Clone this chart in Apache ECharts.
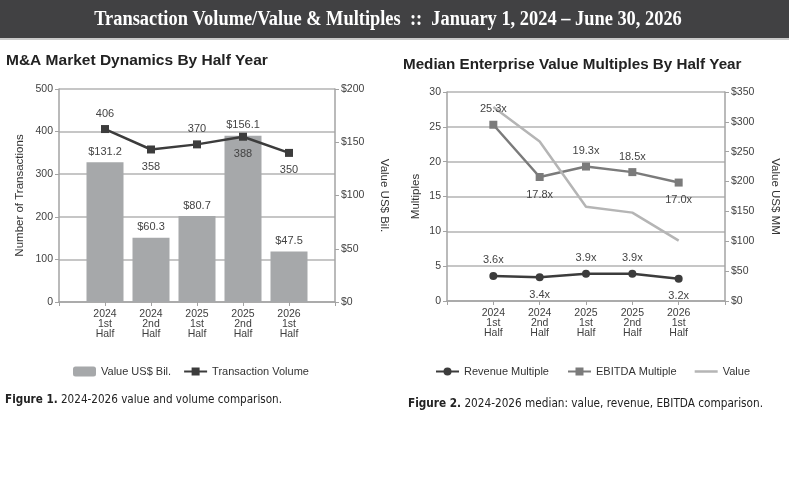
<!DOCTYPE html>
<html>
<head>
<meta charset="utf-8">
<script src="https://cdn.jsdelivr.net/npm/echarts@6/dist/echarts.min.js"></script>
<style>
  html, body { margin: 0; padding: 0; background: #fff; }
  #main { width: 789px; height: 478px; }
</style>
</head>
<body>
<div id="main"></div>
<script>
// half-year periods
var halves = ['2024\n1st\nHalf', '2024\n2nd\nHalf', '2025\n1st\nHalf', '2025\n2nd\nHalf', '2026\n1st\nHalf'];

// figure 1
var dealValue = [131.2, 60.3, 80.7, 156.1, 47.5];   // US$ Bil.
var dealCount = [406, 358, 370, 388, 350];

// figure 2
var revenueMultiple = [3.6, 3.4, 3.9, 3.9, 3.2];
var ebitdaMultiple = [25.3, 17.8, 19.3, 18.5, 17.0];
var medianValue = [325, 267, 158, 148, 101];        // US$ MM

var sans = 'Liberation Sans, Arial, sans-serif';
var capFont = 'DejaVu Sans Condensed, DejaVu Sans, sans-serif';
var axisGray = '#a3a3a3';

// one empty slot on each side, like the original charts
var cats = [''].concat(halves, ['']);
function pad(arr) { return [null].concat(arr, [null]); }

// label above / below per point
var countSide = ['top', 'bottom', 'top', 'bottom', 'bottom'];
var revSide = ['top', 'bottom', 'top', 'top', 'bottom'];
var ebitdaSide = ['top', 'bottom', 'top', 'top', 'bottom'];

function sided(arr, sides) {
  return pad(arr.map(function (v, i) {
    return { value: v, label: { position: sides[i], distance: sides[i] == 'top' ? 6 : 8 } };
  }));
}

function catAxis(idx) {
  return {
    type: 'category', gridIndex: idx, data: cats, boundaryGap: false,
    axisLine: { lineStyle: { color: axisGray, width: 1.5 } },
    axisTick: { show: true, length: 4, lineStyle: { color: axisGray } },
    axisLabel: { interval: 0, color: '#404040', fontFamily: sans, fontSize: 10.5, lineHeight: 10, margin: 7 }
  };
}

function valAxis(idx, max, step, name, pos, gap, fmt, split) {
  return {
    type: 'value', gridIndex: idx, position: pos, min: 0, max: max, interval: step,
    name: name, nameLocation: 'middle', nameGap: gap, nameRotate: pos == 'left' ? 90 : -90,
    nameTextStyle: { color: '#333', fontFamily: sans, fontSize: 11.5 },
    axisLine: { show: true, lineStyle: { color: axisGray, width: 1.5 } },
    axisTick: { show: true, length: 4, lineStyle: { color: axisGray } },
    axisLabel: { color: '#404040', fontFamily: sans, fontSize: 10.5, margin: 6, formatter: fmt },
    splitLine: { show: split, lineStyle: { color: '#b3b3b3', width: 1.5 } }
  };
}

var labelStyle = { show: true, color: '#444', fontFamily: sans, fontSize: 11 };
var lineIcon = 'path://M0,4 L23,4 L23,6.5 L0,6.5 Z';

var chart = echarts.init(document.getElementById('main'));

var option = {
  animation: false,
  backgroundColor: '#fff',
  graphic: [
    { type: 'rect', shape: { x: 0, y: 0, width: 789, height: 38 }, style: { fill: '#414143' } },
    { type: 'rect', shape: { x: 0, y: 38, width: 789, height: 2 }, style: { fill: '#c9c9c9' } },
    {
      type: 'text', x: 388, y: 20, scaleX: 0.92,
      style: {
        text: 'Transaction Volume/Value & Multiples  ::  January 1, 2024 \u2013 June 30, 2026',
        fill: '#fff', font: 'bold 20px "Liberation Serif", "Times New Roman", serif',
        align: 'center', verticalAlign: 'middle'
      }
    },
    {
      type: 'text', x: 6, y: 61,
      style: { text: 'M&A Market Dynamics By Half Year', fill: '#222', font: 'bold 15.5px ' + sans, verticalAlign: 'middle' }
    },
    {
      type: 'text', x: 403, y: 65,
      style: { text: 'Median Enterprise Value Multiples By Half Year', fill: '#222', font: 'bold 15.2px ' + sans, verticalAlign: 'middle' }
    },
    {
      type: 'text', x: 5, y: 400,
      style: {
        text: '{b|Figure 1.} 2024-2026 value and volume comparison.',
        verticalAlign: 'middle',
        rich: { b: { font: 'bold 11.6px ' + capFont, fill: '#222' } },
        font: '11.6px ' + capFont, fill: '#222'
      }
    },
    {
      type: 'text', x: 408, y: 404,
      style: {
        text: '{b|Figure 2.} 2024-2026 median: value, revenue, EBITDA comparison.',
        verticalAlign: 'middle',
        rich: { b: { font: 'bold 11.7px ' + capFont, fill: '#222' } },
        font: '11.7px ' + capFont, fill: '#222'
      }
    }
  ],
  grid: [
    { left: 59, top: 89, width: 276, height: 213 },
    { left: 447, top: 92, width: 278, height: 209 }
  ],
  legend: [
    {
      left: 73, top: 366, padding: 0, itemWidth: 23, itemHeight: 10, itemGap: 12,
      textStyle: { color: '#333', fontFamily: sans, fontSize: 11 },
      data: ['Value US$ Bil.', 'Transaction Volume']
    },
    {
      left: 435, top: 366, padding: 0, itemWidth: 23, itemHeight: 10, itemGap: 18,
      textStyle: { color: '#333', fontFamily: sans, fontSize: 11 },
      data: ['Revenue Multiple', 'EBITDA Multiple', { name: 'Value', icon: lineIcon }]
    }
  ],
  xAxis: [catAxis(0), catAxis(1)],
  yAxis: [
    valAxis(0, 500, 100, 'Number of Transactions', 'left', 33, null, true),
    valAxis(0, 200, 50, 'Value US$ Bil.', 'right', 43, function (v) { return '$' + v; }, false),
    valAxis(1, 30, 5, 'Multiples', 'left', 25, null, true),
    valAxis(1, 350, 50, 'Value US$ MM', 'right', 44, function (v) { return '$' + v; }, false)
  ],
  series: [
    {
      name: 'Value US$ Bil.', type: 'bar', xAxisIndex: 0, yAxisIndex: 1,
      barWidth: 37, data: pad(dealValue),
      itemStyle: { color: '#a6a8aa' },
      label: Object.assign({}, labelStyle, { position: 'top', formatter: function (p) { return '$' + p.value.toFixed(1); } })
    },
    {
      name: 'Transaction Volume', type: 'line', xAxisIndex: 0, yAxisIndex: 0,
      data: sided(dealCount, countSide),
      symbol: 'rect', symbolSize: 8,
      lineStyle: { color: '#3c3c3c', width: 2.5 },
      itemStyle: { color: '#3c3c3c' },
      label: Object.assign({}, labelStyle)
    },
    {
      name: 'Revenue Multiple', type: 'line', xAxisIndex: 1, yAxisIndex: 2,
      data: sided(revenueMultiple, revSide),
      symbol: 'circle', symbolSize: 8,
      lineStyle: { color: '#3c3c3c', width: 2.5 },
      itemStyle: { color: '#3c3c3c' },
      label: Object.assign({}, labelStyle, { formatter: function (p) { return p.value.toFixed(1) + 'x'; } })
    },
    {
      name: 'EBITDA Multiple', type: 'line', xAxisIndex: 1, yAxisIndex: 2,
      data: sided(ebitdaMultiple, ebitdaSide),
      symbol: 'rect', symbolSize: 8,
      lineStyle: { color: '#7b7b7b', width: 2.5 },
      itemStyle: { color: '#7b7b7b' },
      label: Object.assign({}, labelStyle, { formatter: function (p) { return p.value.toFixed(1) + 'x'; } })
    },
    {
      name: 'Value', type: 'line', xAxisIndex: 1, yAxisIndex: 3,
      data: pad(medianValue),
      symbol: 'none',
      lineStyle: { color: '#b5b5b5', width: 2.5 },
      itemStyle: { color: '#b5b5b5' }
    }
  ]
};

chart.setOption(option);
</script>
</body>
</html>
